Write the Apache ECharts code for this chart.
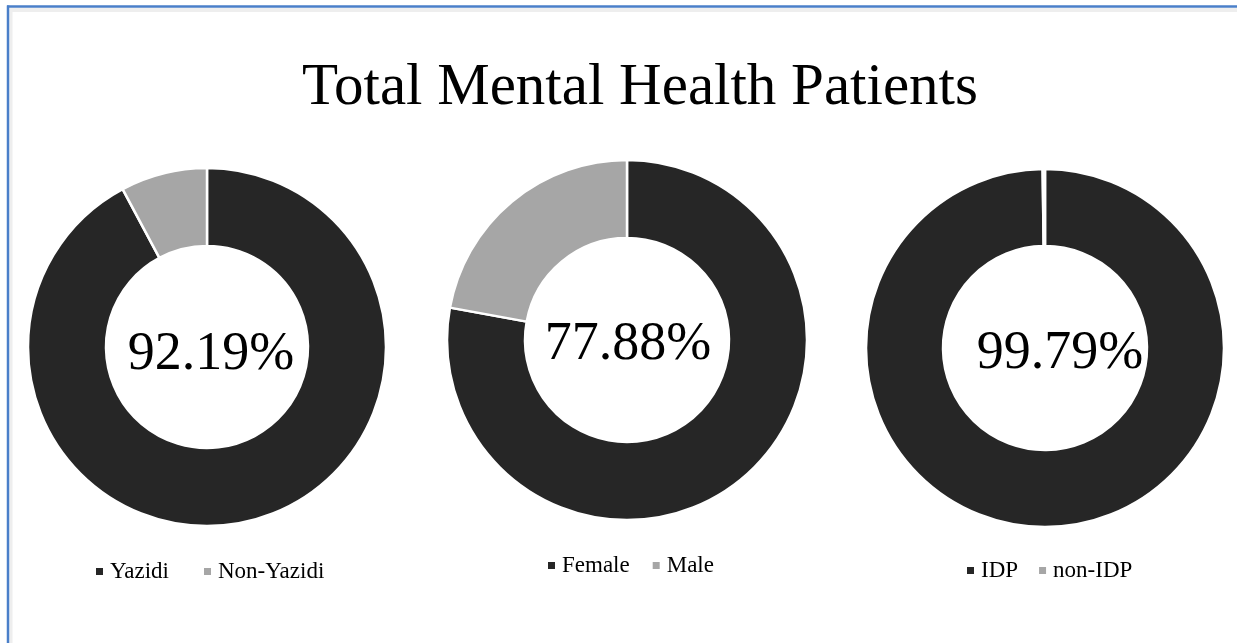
<!DOCTYPE html>
<html>
<head>
<meta charset="utf-8">
<script src="https://cdn.jsdelivr.net/npm/echarts@6/dist/echarts.min.js"></script>
<style>
  html, body { margin: 0; padding: 0; background: #fff; }
  #chart { width: 1237px; height: 643px; }
</style>
</head>
<body>
<div id="chart"></div>
<script>
// data
var titleText = 'Total Mental Health Patients';
var ethnicCats = ['Yazidi', 'Non-Yazidi'];
var ethnicVals = [92.19, 7.81];
var sexCats = ['Female', 'Male'];
var sexVals = [77.88, 22.12];
var idpCats = ['IDP', 'non-IDP'];
var idpVals = [99.79, 0.21];

var colors = ['#262626', '#a6a6a6'];
var serif = '"Liberation Serif", "Times New Roman", serif';

// layout of the three rings
var pies = [
  { cats: ethnicCats, vals: ethnicVals, center: [207, 347], radius: [101, 179],
    pct: { x: 211, top: 328 }, legend: { left: 96, top: 560, gap: 35 } },
  { cats: sexCats, vals: sexVals, center: [627, 340], radius: [102, 180],
    pct: { x: 628, top: 318 }, legend: { left: 548, top: 554, gap: 23 } },
  { cats: idpCats, vals: idpVals, center: [1045, 348], radius: [102, 179],
    pct: { x: 1060, top: 327 }, legend: { left: 967, top: 559, gap: 21 } }
];

function pctText(vals) {
  var sum = vals.reduce(function (a, b) { return a + b; }, 0);
  return (vals[0] / sum * 100).toFixed(2) + '%';
}

var titles = [{
  text: titleText,
  left: 640,
  top: 59,
  textAlign: 'center',
  padding: 0,
  textStyle: { fontFamily: serif, fontSize: 59, fontWeight: 'normal', color: '#000' }
}];
var legends = [];
var series = [];

pies.forEach(function (p, i) {
  titles.push({
    text: pctText(p.vals),
    left: p.pct.x,
    top: p.pct.top,
    textAlign: 'center',
    padding: 0,
    textStyle: { fontFamily: serif, fontSize: 54, fontWeight: 'normal', color: '#000' }
  });
  legends.push({
    data: p.cats,
    left: p.legend.left,
    top: p.legend.top,
    padding: 0,
    orient: 'horizontal',
    icon: 'rect',
    itemWidth: 7,
    itemHeight: 7,
    itemGap: p.legend.gap,
    selectedMode: false,
    itemStyle: { borderWidth: 0 },
    textStyle: { fontFamily: serif, fontSize: 23, color: '#000', padding: [0, 0, 0, 2] }
  });
  series.push({
    type: 'pie',
    center: p.center,
    radius: p.radius,
    startAngle: 90,
    clockwise: true,
    silent: true,
    label: { show: false },
    labelLine: { show: false },
    itemStyle: { borderColor: '#fff', borderWidth: 2.5 },
    emphasis: { disabled: true },
    data: p.cats.map(function (c, k) {
      return { name: c, value: p.vals[k], itemStyle: { color: colors[k] } };
    })
  });
});

var chart = echarts.init(document.getElementById('chart'));
chart.setOption({
  animation: false,
  color: colors,
  title: titles,
  legend: legends,
  series: series,
  graphic: [
    // frame of the slide
    { type: 'line', shape: { x1: 10, y1: 10, x2: 1237, y2: 10 }, style: { stroke: '#eeeeee', lineWidth: 4 }, silent: true },
    { type: 'line', shape: { x1: 11, y1: 8, x2: 11, y2: 643 }, style: { stroke: '#eeeeee', lineWidth: 3 }, silent: true },
    { type: 'line', shape: { x1: 7, y1: 6.5, x2: 1237, y2: 6.5 }, style: { stroke: '#4a7fc9', lineWidth: 2.5 }, silent: true },
    { type: 'line', shape: { x1: 8, y1: 5.5, x2: 8, y2: 643 }, style: { stroke: '#4a7fc9', lineWidth: 2.5 }, silent: true }
  ]
});
</script>
</body>
</html>
